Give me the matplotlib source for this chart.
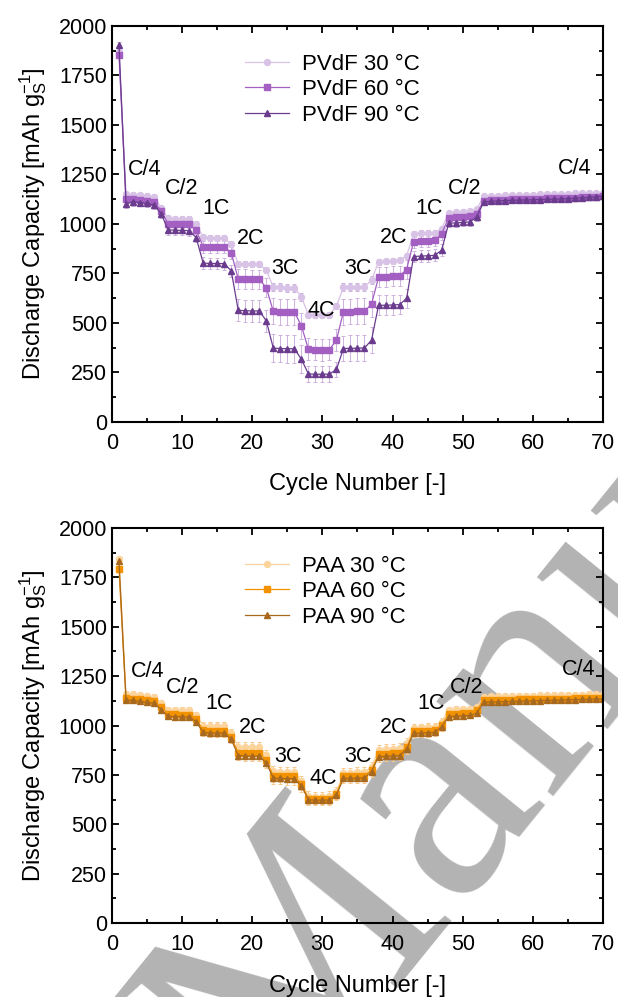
import numpy as np
import matplotlib
matplotlib.use('Agg')
import matplotlib.pyplot as plt
from matplotlib.ticker import MultipleLocator

plt.rcParams['font.family'] = ['Liberation Sans', 'DejaVu Sans']
plt.rcParams['mathtext.fontset'] = 'custom'
plt.rcParams['mathtext.rm'] = 'Liberation Sans'
plt.rcParams['mathtext.it'] = 'Liberation Sans:italic'

cycles = np.arange(1, 71)

# PVdF, discharge capacity per cycle
pvdf_30 = [1870,
           1150, 1148, 1145, 1142, 1138, 1080,
           1028, 1027, 1027, 1026, 998,
           932, 930, 930, 929, 896,
           798, 797, 796, 796, 766,
           680, 679, 678, 678, 631,
           540, 539, 539, 540, 584,
           680, 680, 681, 682, 715,
           808, 810, 812, 815, 838,
           950, 952, 954, 956, 976,
           1055, 1058, 1062, 1065, 1075,
           1140, 1142, 1143, 1144, 1145, 1146, 1147, 1148, 1149,
           1150, 1151, 1152, 1153, 1154, 1155, 1156, 1157, 1158]
pvdf_60 = [1855,
           1128, 1125, 1122, 1118, 1112, 1066,
           1000, 998, 998, 997, 968,
           885, 884, 883, 883, 854,
           722, 720, 719, 719, 678,
           558, 556, 555, 555, 485,
           367, 365, 364, 365, 412,
           556, 557, 558, 558, 594,
           730, 733, 735, 737, 769,
           910, 912, 914, 916, 951,
           1030, 1033, 1036, 1040, 1052,
           1118, 1120, 1122, 1123, 1124, 1125, 1126, 1127, 1128,
           1129, 1130, 1131, 1132, 1133, 1134, 1135, 1137, 1140]
pvdf_90 = [1905,
           1100, 1112, 1108, 1103, 1095, 1052,
           970, 968, 967, 966, 931,
           802, 800, 800, 799, 763,
           563, 561, 560, 560, 510,
           372, 370, 369, 369, 316,
           242, 240, 240, 241, 264,
           370, 371, 372, 373, 412,
           588, 589, 590, 592, 623,
           835, 837, 839, 841, 867,
           1003, 1005, 1007, 1010, 1035,
           1111, 1114, 1116, 1118, 1119, 1120, 1121, 1122, 1123,
           1124, 1125, 1126, 1128, 1130, 1132, 1134, 1137, 1140]

# PAA, discharge capacity per cycle
paa_30 = [1845,
          1160, 1158, 1155, 1150, 1146, 1115,
          1080, 1078, 1078, 1077, 1053,
          1000, 998, 997, 997, 960,
          893, 892, 890, 890, 850,
          768, 766, 765, 765, 720,
          642, 640, 640, 641, 665,
          760, 762, 763, 764, 790,
          878, 880, 882, 884, 910,
          988, 990, 992, 994, 1020,
          1080, 1082, 1084, 1086, 1095,
          1146, 1147, 1148, 1148, 1149, 1150, 1150, 1151, 1152,
          1152, 1153, 1154, 1155, 1156, 1157, 1158, 1159, 1160]
paa_60 = [1790,
          1138, 1135, 1132, 1128, 1124, 1095,
          1058, 1056, 1055, 1055, 1035,
          975, 974, 973, 973, 942,
          862, 860, 859, 859, 825,
          745, 744, 743, 743, 705,
          630, 628, 628, 629, 655,
          742, 744, 745, 746, 775,
          855, 857, 859, 861, 890,
          970, 972, 974, 975, 1005,
          1058, 1060, 1062, 1064, 1078,
          1128, 1129, 1130, 1130, 1131, 1132, 1132, 1133, 1134,
          1134, 1135, 1136, 1136, 1137, 1138, 1138, 1139, 1140]
paa_90 = [1832,
          1128, 1127, 1122, 1118, 1112, 1081,
          1046, 1045, 1044, 1044, 1019,
          965, 963, 962, 962, 930,
          848, 846, 845, 845, 810,
          734, 732, 731, 731, 694,
          624, 622, 622, 623, 648,
          732, 733, 734, 735, 766,
          842, 844, 846, 848, 880,
          960, 962, 964, 965, 994,
          1045, 1047, 1049, 1051, 1062,
          1118, 1119, 1120, 1121, 1122, 1123, 1124, 1125, 1126,
          1127, 1128, 1129, 1130, 1131, 1132, 1133, 1134, 1135]

# error bars, one value per rate step
block_len = [1, 6, 5, 5, 5, 5, 5, 5, 5, 5, 5, 18]
pvdf_30_err = [10, 12, 15, 15, 15, 20, 15, 20, 15, 15, 12, 10]
pvdf_60_err = [15, 15, 20, 30, 50, 65, 55, 65, 50, 30, 20, 12]
pvdf_90_err = [15, 20, 25, 30, 55, 70, 40, 65, 50, 30, 20, 12]
paa_30_err = [10, 15, 15, 20, 25, 25, 25, 25, 25, 20, 15, 15]
paa_60_err = [10, 15, 15, 20, 25, 30, 25, 25, 25, 20, 15, 15]
paa_90_err = [10, 15, 15, 20, 25, 30, 25, 25, 25, 20, 15, 15]

# rate labels: text, cycle, capacity
pvdf_rates = [('C/4', 4.7, 1275), ('C/2', 9.9, 1180), ('1C', 14.8, 1080),
              ('2C', 19.8, 925), ('3C', 24.7, 775), ('4C', 29.8, 560),
              ('3C', 35.0, 775), ('2C', 40.2, 930), ('1C', 45.2, 1080),
              ('C/2', 50.3, 1180), ('C/4', 65.9, 1280)]
paa_rates = [('C/4', 5.1, 1275), ('C/2', 10.1, 1195), ('1C', 15.2, 1112),
             ('2C', 20.1, 992), ('3C', 25.1, 845), ('4C', 30.1, 730),
             ('3C', 35.1, 845), ('2C', 40.2, 992), ('1C', 45.5, 1112),
             ('C/2', 50.5, 1195), ('C/4', 66.5, 1282)]

pvdf_colors = ['#d8c2e6', '#a35fc1', '#6b3c8e']
pvdf_err_color = '#cdb2de'
paa_colors = ['#fcd49c', '#f39200', '#a8691e']
paa_err_color = '#f9c98a'
markers = ['o', 's', '^']
temps = ['30 °C', '60 °C', '90 °C']

fig = plt.figure(figsize=(6.18, 9.97), dpi=100)
fig.patch.set_facecolor('white')

# grey watermark behind the plots
fig.text(0.44, -0.135, 'Manuscript', rotation=51, rotation_mode='anchor',
         fontsize=235, color='#b3b3b3', family='Liberation Serif',
         ha='left', va='baseline', zorder=-5)

ax1 = fig.add_axes([0.1812, 0.577, 0.7945, 0.3969])
ax2 = fig.add_axes([0.1812, 0.0742, 0.7945, 0.3962])


def draw_panel(ax, name, series, errs, colors, err_color, rates):
    ax.set_facecolor('none')
    for vals, err, col, mk, t in zip(series, errs, colors, markers, temps):
        e = np.repeat(err, block_len)
        ax.errorbar(cycles, vals, yerr=e, fmt='none', ecolor=err_color,
                    elinewidth=0.7, capsize=1.5, capthick=0.7, zorder=1)
        ax.plot(cycles, vals, color=col, marker=mk, markersize=4.3,
                linewidth=0.9, label=f'{name} {t}', zorder=2)
    for txt, x, y in rates:
        ax.text(x, y, txt, fontsize=15.5, ha='center', va='center')
    ax.set_xlim(0, 70)
    ax.set_ylim(0, 2000)
    ax.xaxis.set_major_locator(MultipleLocator(10))
    ax.xaxis.set_minor_locator(MultipleLocator(5))
    ax.yaxis.set_major_locator(MultipleLocator(250))
    ax.yaxis.set_minor_locator(MultipleLocator(125))
    ax.tick_params(which='both', direction='in', top=True, right=True,
                   width=1.3, labelsize=15.5)
    ax.tick_params(which='major', length=5)
    ax.tick_params(which='minor', length=3)
    ax.tick_params(axis='x', pad=8)
    for s in ax.spines.values():
        s.set_linewidth(1.5)
    ax.set_xlabel('Cycle Number [-]', fontsize=17, labelpad=14)
    ax.set_ylabel(r'Discharge Capacity [mAh g$_\mathrm{S}^{-1}$]',
                  fontsize=17, labelpad=7)
    ax.legend(loc='upper left', bbox_to_anchor=(0.27, 0.93), frameon=False,
              fontsize=16, handlelength=2.0, handletextpad=0.6,
              labelspacing=0.2, borderpad=0, borderaxespad=0)


draw_panel(ax1, 'PVdF', [pvdf_30, pvdf_60, pvdf_90],
           [pvdf_30_err, pvdf_60_err, pvdf_90_err],
           pvdf_colors, pvdf_err_color, pvdf_rates)
draw_panel(ax2, 'PAA', [paa_30, paa_60, paa_90],
           [paa_30_err, paa_60_err, paa_90_err],
           paa_colors, paa_err_color, paa_rates)

fig.savefig('out.png', dpi=100)
